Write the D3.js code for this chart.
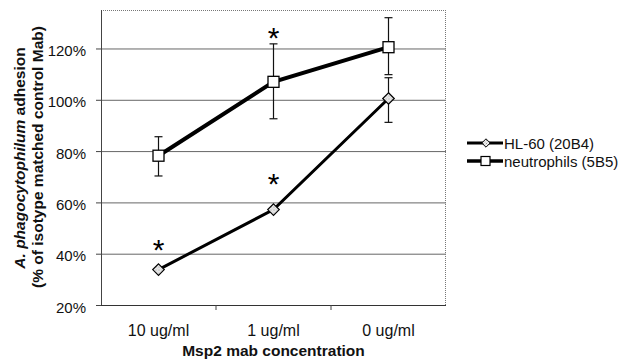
<!DOCTYPE html>
<html>
<head>
<meta charset="utf-8">
<script src="https://cdn.jsdelivr.net/npm/d3@7"></script>
<style>
  body { margin: 0; background: #fff; }
  text { font-family: "Liberation Sans", Arial, sans-serif; }
</style>
</head>
<body>
<script>
// concentrations on the x axis
var categories = ["10 ug/ml", "1 ug/ml", "0 ug/ml"];
var yTicks = [20, 40, 60, 80, 100, 120];

// adhesion, % of isotype matched control
var hl60 = [33.8, 57.2, 100.5];
var hl60Low = [33.8, 57.2, 91.2];
var hl60High = [33.8, 57.2, 108.6];

var neutro = [78.2, 107, 120.5];
var neutroLow = [70.3, 92.6, 109.8];
var neutroHigh = [85.6, 121.8, 132];

// significance stars: [series, category index, height in %]
var stars = [["neutro", 1, 125.7], ["hl60", 0, 43.1], ["hl60", 1, 68.6]];

var W = 622, H = 363;
var margin = {top: 10, right: 176, bottom: 58, left: 101};
var width = W - margin.left - margin.right,
    height = H - margin.top - margin.bottom;

var svg = d3.select("body").append("svg")
  .attr("width", W).attr("height", H);

var defs = svg.append("defs");
var pat = defs.append("pattern").attr("id", "hatch")
  .attr("patternUnits", "userSpaceOnUse").attr("width", 3).attr("height", 3);
pat.append("rect").attr("width", 3).attr("height", 3).attr("fill", "#eee");
pat.append("rect").attr("width", 1).attr("height", 1).attr("fill", "#999");
pat.append("rect").attr("x", 1.5).attr("y", 1.5).attr("width", 1).attr("height", 1).attr("fill", "#aaa");

var g = svg.append("g")
  .attr("transform", "translate(" + margin.left + "," + margin.top + ")");

var x = d3.scaleBand().domain(categories).range([0, width]);
var y = d3.scaleLinear().domain([20, 135]).range([height, 0]);
var cx = function(i) { return x(categories[i]) + x.bandwidth() / 2; };

// gridlines
g.append("g")
  .call(d3.axisLeft(y).tickValues(yTicks).tickSize(-width).tickFormat(""))
  .call(function(s) {
    s.select(".domain").remove();
    s.selectAll("line").attr("stroke", "#666").attr("stroke-width", 1);
  });

// plot area frame (dotted top and right)
g.append("line").attr("x1", 0).attr("x2", width).attr("y1", 0.5).attr("y2", 0.5)
  .attr("stroke", "#777").attr("stroke-dasharray", "1,1");
g.append("line").attr("x1", width - 0.5).attr("x2", width - 0.5).attr("y1", 0).attr("y2", height)
  .attr("stroke", "#777").attr("stroke-dasharray", "1,1");

// y axis
var yAxis = g.append("g")
  .call(d3.axisLeft(y).tickValues(yTicks).tickSize(5).tickPadding(10)
    .tickFormat(function(d) { return d + "%"; }));
yAxis.select(".domain").attr("stroke", "#444").attr("d", "M0.5,0V" + height);
yAxis.selectAll("line").attr("stroke", "#444");
yAxis.selectAll("text").attr("font-size", 15).attr("fill", "#111").attr("dy", "0.48em")
  .attr("font-family", "Liberation Sans, Arial, sans-serif");

// x axis
var xAxis = g.append("g").attr("transform", "translate(0," + height + ")")
  .call(d3.axisBottom(x).tickSize(0).tickPadding(20));
xAxis.select(".domain").attr("stroke", "#333").attr("d", "M0,0.5H" + width);
xAxis.selectAll("text").attr("font-size", 16).attr("fill", "#111")
  .attr("font-family", "Liberation Sans, Arial, sans-serif");
// category separator ticks
g.selectAll(".sep").data(categories.slice(1)).enter().append("line")
  .attr("x1", function(d) { return x(d); }).attr("x2", function(d) { return x(d); })
  .attr("y1", height).attr("y2", height + 5).attr("stroke", "#444");

// axis titles
svg.append("text")
  .attr("x", margin.left + width / 2).attr("y", 356)
  .attr("text-anchor", "middle").attr("font-size", 15.5).attr("font-weight", "bold")
  .attr("fill", "#111").text("Msp2 mab concentration");

var yt = svg.append("text")
  .attr("transform", "translate(25,158) rotate(-90)")
  .attr("text-anchor", "middle").attr("font-size", 15.5).attr("font-weight", "bold")
  .attr("fill", "#111");
yt.append("tspan").attr("font-style", "italic").text("A. phagocytophilum");
yt.append("tspan").text(" adhesion");
svg.append("text")
  .attr("transform", "translate(43,157) rotate(-90)")
  .attr("text-anchor", "middle").attr("font-size", 15.5).attr("font-weight", "bold")
  .attr("fill", "#111").text("(% of isotype matched control Mab)");

// error bars
function errorBars(low, high) {
  var eb = g.append("g").attr("stroke", "#111").attr("stroke-width", 1.2);
  low.forEach(function(l, i) {
    if (high[i] - l < 1) return;
    eb.append("line").attr("x1", cx(i)).attr("x2", cx(i))
      .attr("y1", y(l)).attr("y2", y(high[i]));
    [l, high[i]].forEach(function(v) {
      eb.append("line").attr("x1", cx(i) - 4).attr("x2", cx(i) + 4)
        .attr("y1", y(v)).attr("y2", y(v));
    });
  });
}
errorBars(neutroLow, neutroHigh);
errorBars(hl60Low, hl60High);

var line = d3.line()
  .x(function(d, i) { return cx(i); })
  .y(function(d) { return y(d); });

g.append("path").attr("d", line(neutro)).attr("fill", "none")
  .attr("stroke", "#000").attr("stroke-width", 4);
g.append("path").attr("d", line(hl60)).attr("fill", "none")
  .attr("stroke", "#000").attr("stroke-width", 3);

// markers
g.selectAll(".sq").data(neutro).enter().append("rect")
  .attr("x", function(d, i) { return cx(i) - 5.5; })
  .attr("y", function(d) { return y(d) - 5.5; })
  .attr("width", 11).attr("height", 11)
  .attr("fill", "#fff").attr("stroke", "#000").attr("stroke-width", 1.3);

var diamond = d3.symbol().type(d3.symbolDiamond2).size(85);
g.selectAll(".dm").data(hl60).enter().append("path")
  .attr("d", diamond)
  .attr("transform", function(d, i) { return "translate(" + cx(i) + "," + y(d) + ")"; })
  .attr("fill", "url(#hatch)").attr("stroke", "#000").attr("stroke-width", 1.2);

// stars
g.selectAll(".star").data(stars).enter().append("text")
  .attr("x", function(d) { return cx(d[1]); })
  .attr("y", function(d) { return y(d[2]) + 14; })
  .attr("text-anchor", "middle").attr("font-size", 30).attr("fill", "#000")
  .text("*");

// legend
var legend = svg.append("g").attr("transform", "translate(467,143)");
var items = [["HL-60 (20B4)", "diamond"], ["neutrophils (5B5)", "square"]];
items.forEach(function(it, i) {
  var row = legend.append("g").attr("transform", "translate(0," + (i * 18) + ")");
  row.append("line").attr("x1", 0).attr("x2", 36).attr("stroke", "#000")
    .attr("stroke-width", i === 0 ? 3 : 3.5);
  if (it[1] === "diamond") {
    row.append("path").attr("d", d3.symbol().type(d3.symbolDiamond2).size(45))
      .attr("transform", "translate(19,0)")
      .attr("fill", "url(#hatch)").attr("stroke", "#000").attr("stroke-width", 1);
  } else {
    row.append("rect").attr("x", 14).attr("y", -4.5).attr("width", 9).attr("height", 9)
      .attr("fill", "#fff").attr("stroke", "#000").attr("stroke-width", 1.2);
  }
  row.append("text").attr("x", 37).attr("y", 5.5).attr("font-size", 15)
    .attr("fill", "#111").text(it[0]);
});
</script>
</body>
</html>
